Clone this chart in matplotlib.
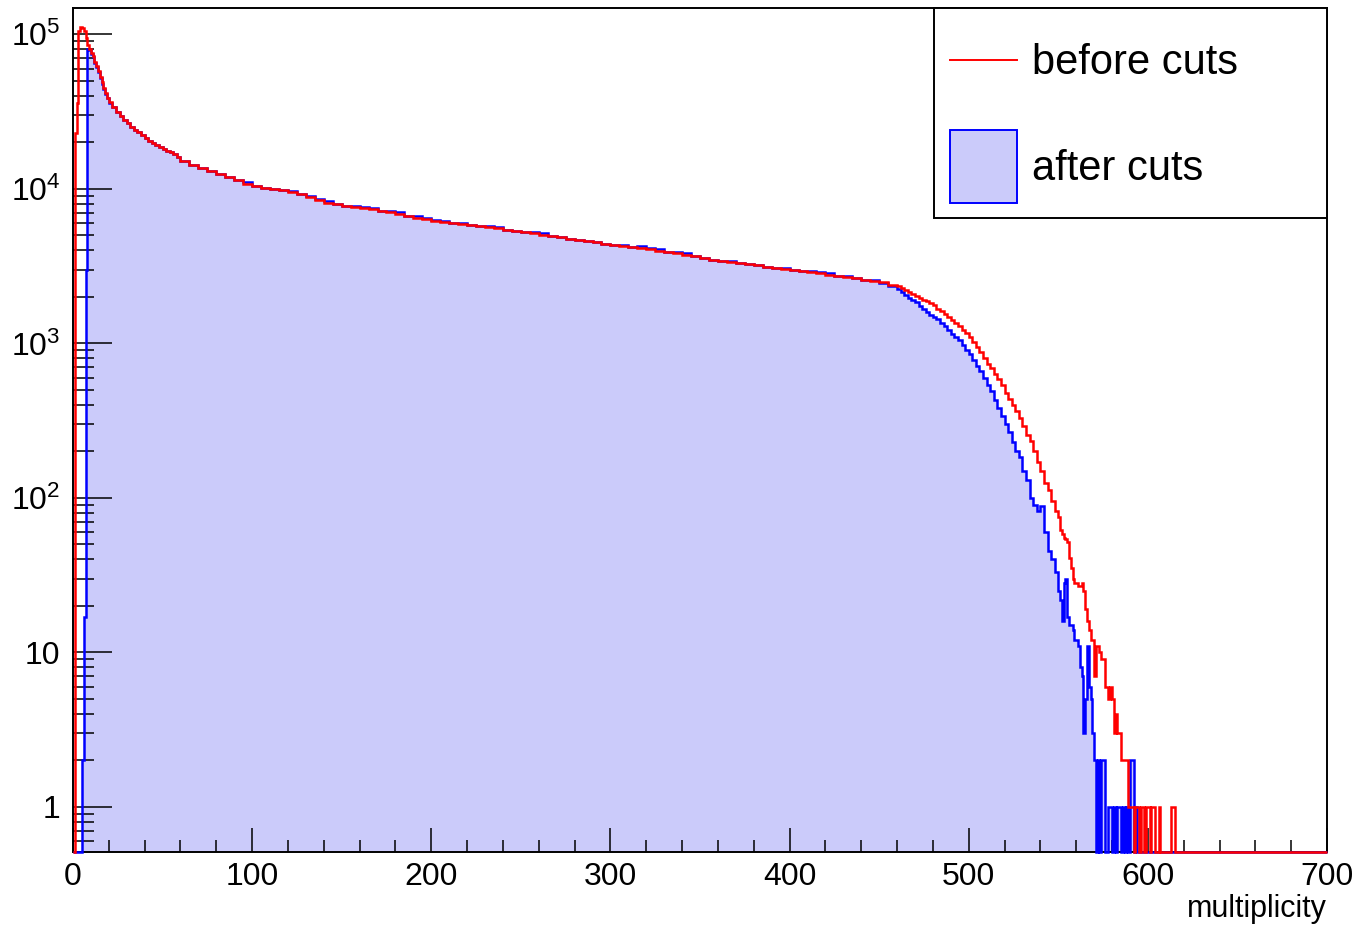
import numpy as np
import matplotlib
matplotlib.use('Agg')
import matplotlib.pyplot as plt
from matplotlib.patches import Rectangle
from matplotlib.lines import Line2D
from matplotlib.ticker import FixedLocator, FixedFormatter, LogLocator, MultipleLocator, NullFormatter

plt.rcParams['font.family'] = ['Liberation Sans', 'DejaVu Sans']
plt.rcParams['mathtext.fontset'] = 'custom'
plt.rcParams['mathtext.rm'] = 'Liberation Sans'

# bin layout: unit bins at the peak, 2-wide on the steep fall, 5-wide on the plateau,
# 2-wide on the knee, unit bins in the tail and one empty bin up to the end of the axis
edges = np.concatenate([np.arange(0, 20), np.arange(20, 60, 2), np.arange(60, 460, 5),
                        np.arange(460, 550, 2), np.arange(550, 621), [700]])

# before cuts (red)
red_0_20 = [0, 2.3e4, 3.6e4, 1.05e5, 1.12e5, 1.1e5, 1.05e5, 9.5e4, 8.5e4, 8.0e4,
            7.6e4, 7.2e4, 6.6e4, 6.2e4, 5.8e4, 5.3e4, 4.9e4, 4.5e4, 4.2e4, 3.9e4]
red_20_60 = [3.65e4, 3.4e4, 3.15e4, 2.98e4, 2.8e4, 2.65e4, 2.52e4, 2.42e4, 2.32e4, 2.22e4,
             2.12e4, 2.05e4, 1.98e4, 1.92e4, 1.86e4, 1.82e4, 1.77e4, 1.72e4, 1.67e4, 1.6e4]
red_60_460 = [1.52e4, 1.42e4,
              1.36e4, 1.30e4, 1.25e4, 1.20e4, 1.14e4, 1.08e4, 1.05e4, 1.02e4, 1.0e4, 9.8e3,
              9.5e3, 9.2e3, 8.8e3, 8.45e3, 8.15e3, 7.95e3, 7.8e3, 7.65e3, 7.5e3, 7.35e3,
              7.2e3, 7.05e3, 6.9e3, 6.7e3, 6.5e3, 6.35e3, 6.2e3, 6.1e3, 6.0e3, 5.9e3,
              5.8e3, 5.72e3, 5.65e3, 5.55e3, 5.45e3, 5.35e3, 5.25e3, 5.15e3, 5.05e3, 4.95e3,
              4.85e3, 4.75e3, 4.65e3, 4.58e3, 4.5e3, 4.42e3, 4.33e3, 4.25e3, 4.18e3, 4.12e3,
              4.06e3, 3.98e3, 3.9e3, 3.82e3, 3.75e3, 3.65e3, 3.55e3, 3.45e3, 3.4e3, 3.35e3,
              3.3e3, 3.26e3, 3.2e3, 3.13e3, 3.06e3, 3.01e3, 2.97e3, 2.93e3, 2.89e3, 2.85e3,
              2.79e3, 2.73e3, 2.68e3, 2.63e3, 2.58e3, 2.53e3, 2.48e3, 2.40e3]
red_460_550 = [2.35e3, 2.28e3, 2.22e3, 2.15e3, 2.10e3, 2.04e3, 1.98e3, 1.92e3, 1.87e3, 1.82e3,
               1.76e3, 1.68e3, 1.62e3, 1.55e3, 1.48e3, 1.42e3, 1.35e3, 1.30e3, 1.22e3, 1.16e3,
               1.10e3, 1.02e3, 950, 880, 800, 730, 690, 630, 590, 540,
               480, 435, 400, 365, 330, 290, 255, 235, 200, 170,
               150, 125, 112, 95, 82]
red_550_620 = [75, 62, 58, 55, 54, 52, 41, 35, 30, 28,
               28, 27, 27, 28, 25, 19, 16, 14, 12, 12,
               7, 11, 11, 10, 9, 9, 6, 6, 5, 6,
               5, 3, 4, 3, 3, 2, 2, 2, 2, 1,
               1, 1, 0, 1, 1, 0, 1, 1, 0, 1,
               1, 0, 1, 1, 0, 0, 1, 0, 0, 0,
               0, 0, 0, 1, 1, 0, 0, 0, 0, 0]

# after cuts (blue)
blue_0_20 = [0, 0, 0, 0, 0, 2, 17, 3.0e3, 8.0e4, 7.9e4,
             7.5e4, 7.1e4, 6.5e4, 6.1e4, 5.7e4, 5.2e4, 4.8e4, 4.4e4, 4.1e4, 3.85e4]
blue_20_60 = [3.6e4, 3.4e4, 3.15e4, 2.95e4, 2.8e4, 2.65e4, 2.52e4, 2.4e4, 2.32e4, 2.22e4,
              2.14e4, 2.05e4, 1.98e4, 1.93e4, 1.86e4, 1.82e4, 1.77e4, 1.72e4, 1.67e4, 1.6e4]
blue_60_460 = [1.52e4, 1.42e4,
               1.36e4, 1.30e4, 1.25e4, 1.20e4, 1.14e4, 1.10e4, 1.05e4, 1.02e4, 1.0e4, 9.8e3,
               9.7e3, 9.2e3, 8.95e3, 8.6e3, 8.3e3, 7.95e3, 7.8e3, 7.8e3, 7.65e3, 7.5e3,
               7.2e3, 7.2e3, 7.05e3, 6.7e3, 6.65e3, 6.5e3, 6.3e3, 6.2e3, 6.0e3, 6.0e3,
               5.8e3, 5.72e3, 5.75e3, 5.65e3, 5.45e3, 5.35e3, 5.25e3, 5.25e3, 5.15e3, 4.95e3,
               4.85e3, 4.75e3, 4.65e3, 4.58e3, 4.5e3, 4.42e3, 4.33e3, 4.33e3, 4.18e3, 4.25e3,
               4.14e3, 4.06e3, 3.9e3, 3.9e3, 3.83e3, 3.65e3, 3.55e3, 3.45e3, 3.4e3, 3.42e3,
               3.3e3, 3.26e3, 3.2e3, 3.13e3, 3.06e3, 3.07e3, 2.97e3, 2.93e3, 2.95e3, 2.91e3,
               2.84e3, 2.73e3, 2.74e3, 2.63e3, 2.58e3, 2.58e3, 2.46e3, 2.36e3]
blue_460_550 = [2.25e3, 2.15e3, 2.05e3, 1.98e3, 1.90e3, 1.85e3, 1.75e3, 1.66e3, 1.60e3, 1.52e3,
                1.48e3, 1.43e3, 1.36e3, 1.30e3, 1.22e3, 1.15e3, 1.10e3, 1.05e3, 980, 900,
                850, 780, 710, 660, 600, 540, 490, 430, 380, 340,
                300, 265, 230, 200, 185, 150, 130, 100, 90, 82,
                88, 60, 45, 40, 33]
blue_550_620 = [25, 22, 16, 28, 30, 17, 15, 15, 14, 12,
                12, 11, 8, 7, 3, 5, 11, 6, 5, 3,
                2, 0, 2, 0, 2, 2, 0, 0, 1, 1,
                0, 1, 0, 1, 1, 0, 1, 0, 1, 0,
                2, 2, 0, 1, 0, 0, 0, 0, 0, 0,
                0, 0, 0, 0, 0, 0, 0, 0, 0, 0,
                0, 0, 0, 0, 0, 0, 0, 0, 0, 0]

labels = ['before cuts', 'after cuts']
y_ticks = [1, 10, 1e2, 1e3, 1e4, 1e5]
y_ticklabels = ['1', '10', r'$\mathregular{10^{2}}$', r'$\mathregular{10^{3}}$',
                r'$\mathregular{10^{4}}$', r'$\mathregular{10^{5}}$']

red = np.concatenate([red_0_20, red_20_60, red_60_460, red_460_550, red_550_620, [0]])
blue = np.concatenate([blue_0_20, blue_20_60, blue_60_460, blue_460_550, blue_550_620, [0]])

y_lo, y_hi = 0.511, 1.48e5
fill_col = '#cbcbfa'

fig = plt.figure(figsize=(13.56, 9.27), dpi=100)
ax = fig.add_axes([0.05383, 0.08091, 0.92478, 0.91046])
ax.set_yscale('log')

# empty bins sit on the bottom of the frame, like ROOT draws them
ax.stairs(np.maximum(blue, y_lo), edges, baseline=y_lo, fill=True, color=fill_col, lw=0, zorder=1)
ax.stairs(np.maximum(blue, y_lo), edges, baseline=y_lo, color='#0000ff', lw=1.8, zorder=3, clip_on=False)
ax.stairs(np.maximum(red, y_lo), edges, baseline=y_lo, color='#ff0000', lw=1.8, zorder=4, clip_on=False)

ax.set_xlim(0, 700)
ax.set_ylim(y_lo, y_hi)

for s in ax.spines.values():
    s.set_linewidth(1.4)

ax.xaxis.set_major_locator(MultipleLocator(100))
ax.xaxis.set_minor_locator(MultipleLocator(20))
ax.yaxis.set_major_locator(FixedLocator(y_ticks))
ax.yaxis.set_major_formatter(FixedFormatter(y_ticklabels))
ax.yaxis.set_minor_locator(LogLocator(base=10, subs=np.arange(2, 10), numticks=30))
ax.yaxis.set_minor_formatter(NullFormatter())

ax.tick_params(axis='both', which='both', direction='in', top=False, right=False, width=1.1)
ax.tick_params(axis='x', which='major', length=17, labelsize=23, pad=7)
ax.tick_params(axis='x', which='minor', length=8.5)
ax.tick_params(axis='y', which='major', length=28, labelsize=23, pad=9)
ax.tick_params(axis='y', which='minor', length=15)

ax.set_xlabel('multiplicity', fontsize=22, loc='right', labelpad=2)

# legend box in the upper right corner
ax.add_patch(Rectangle((0.6866, 0.7512), 0.3134, 0.2488, transform=ax.transAxes,
                       facecolor='white', edgecolor='black', lw=1.4, zorder=5, clip_on=False))
ax.add_line(Line2D([0.6994, 0.7528], [0.9384, 0.9384], transform=ax.transAxes,
                   color='#ff0000', lw=1.4, zorder=6))
ax.add_patch(Rectangle((0.6994, 0.7690), 0.0534, 0.0865, transform=ax.transAxes,
                       facecolor=fill_col, edgecolor='#0000ff', lw=1.4, zorder=6))
ax.text(0.7648, 0.9218, labels[0], fontsize=30, va='baseline', transform=ax.transAxes, zorder=7)
ax.text(0.7648, 0.7962, labels[1], fontsize=30, va='baseline', transform=ax.transAxes, zorder=7)

fig.savefig('out.png', dpi=100)
